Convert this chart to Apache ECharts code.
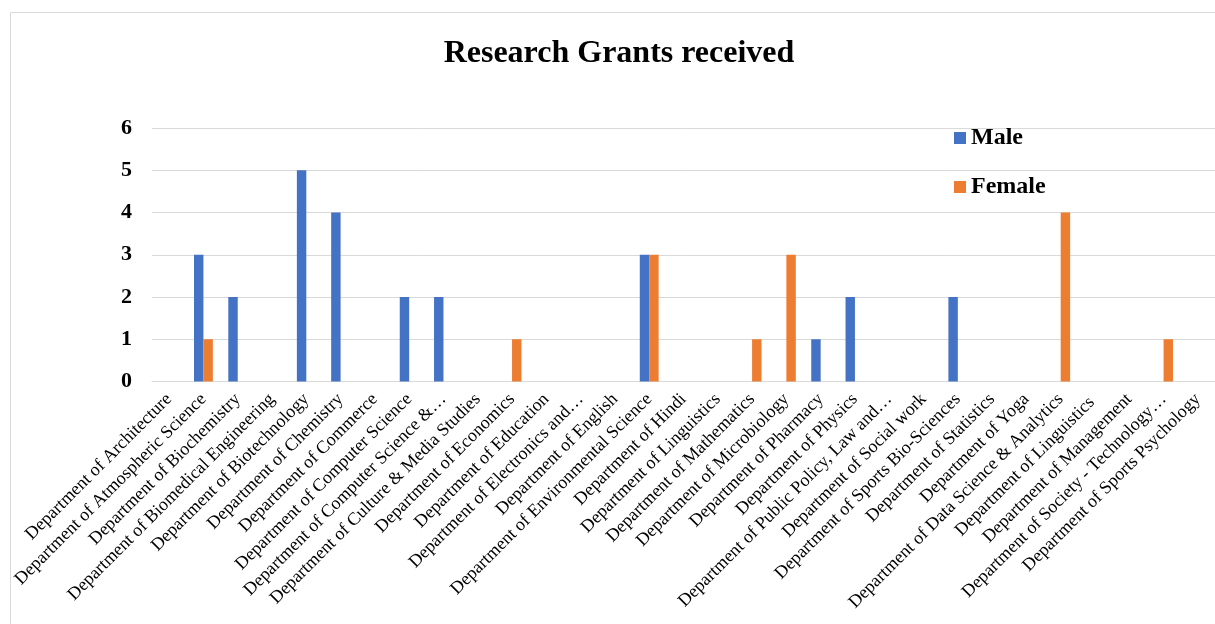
<!DOCTYPE html>
<html><head><meta charset="utf-8">
<script src="https://cdn.jsdelivr.net/npm/echarts@6/dist/echarts.min.js"></script>
<style>html,body{margin:0;padding:0;background:#fff}#c{width:1215px;height:624px}</style>
</head><body><div id="c"></div>
<script>
const categories = [
  "Department of Architecture","Department of Atmospheric Science","Department of Biochemistry",
  "Department of Biomedical Engineering","Department of Biotechnology","Department of Chemistry",
  "Department of Commerce","Department of Computer Science","Department of Computer Science &…",
  "Department of Culture & Media Studies","Department of Economics","Department of Education",
  "Department of Electronics and…","Department of English","Department of Environmental Science",
  "Department of Hindi","Department of Linguistics","Department of Mathematics",
  "Department of Microbiology","Department of Pharmacy","Department of Physics",
  "Department of Public Policy, Law and…","Department of Social work","Department of Sports Bio-Sciences",
  "Department of Statistics","Department of Yoga","Department of Data Science & Analytics",
  "Department of Linguistics ","Department of Management","Department of Society - Technology…",
  "Department of Sports Psychology"
];
const male   = [0,3,2,0,5,4,0,2,2,0,0,0,0,0,3,0,0,0,0,1,2,0,0,2,0,0,0,0,0,0,0];
const female = [0,1,0,0,0,0,0,0,0,0,1,0,0,0,3,0,0,1,3,0,0,0,0,0,0,0,4,0,0,1,0];
const yTicks = [0,1,2,3,4,5,6];

const serif = '"Liberation Serif","Times New Roman",serif';
const chart = echarts.init(document.getElementById('c'));
chart.setOption({
  animation: false,
  backgroundColor: '#fff',
  graphic: [{type:'rect', shape:{x:10.5,y:12.5,width:1220,height:640}, style:{fill:'none', stroke:'#d9d9d9', lineWidth:1}, silent:true}],
  title: {text: 'Research Grants received', left: 614, top: 33, textAlign: 'center',
    textStyle: {fontFamily: serif, fontWeight: 'bold', fontSize: 32, color: '#000'}},
  legend: {orient: 'vertical', left: 949, top: 121, itemWidth: 12, itemHeight: 12, itemGap: 25,
    icon: 'rect',
    textStyle: {fontFamily: serif, fontWeight: 'bold', fontSize: 24, color: '#000'},
    data: ['Male','Female']},
  grid: {left: 152, right: 0, top: 128, bottom: 242.5, containLabel: false},
  xAxis: {type: 'category', data: categories,
    axisLine: {lineStyle: {color: '#d9d9d9', width: 1}},
    axisTick: {show: false},
    axisLabel: {interval: 0, rotate: 45, fontFamily: serif, fontSize: 18, color: '#000', margin: 15}},
  yAxis: {type: 'value', min: yTicks[0], max: yTicks[yTicks.length-1], interval: 1,
    axisLine: {show: false}, axisTick: {show: false},
    splitLine: {lineStyle: {color: '#d9d9d9', width: 1}},
    axisLabel: {fontFamily: serif, fontWeight: 'bold', fontSize: 22, color: '#000', margin: 20}},
  series: [
    {name: 'Male', type: 'bar', data: male, itemStyle: {color: '#4472C4'}, barGap: '0%', barCategoryGap: '45%'},
    {name: 'Female', type: 'bar', data: female, itemStyle: {color: '#ED7D31'}, barGap: '0%', barCategoryGap: '45%'}
  ]
});
</script></body></html>
